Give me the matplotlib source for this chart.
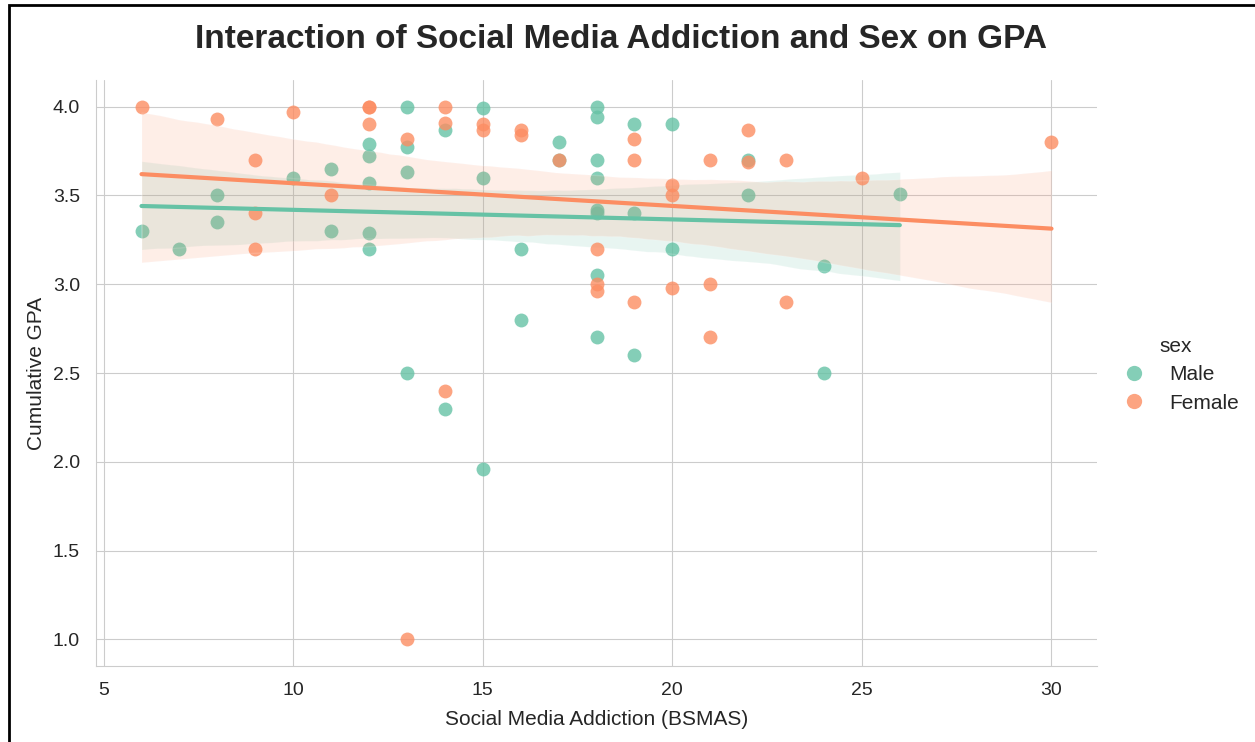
import numpy as np
import pandas as pd
import matplotlib
matplotlib.use("Agg")
import matplotlib.pyplot as plt
from matplotlib.lines import Line2D
from matplotlib.patches import Rectangle
import seaborn as sns

# BSMAS score and cumulative GPA per respondent
male_bsmas = [6, 7, 8, 8, 10, 11, 11, 12, 12, 12, 12, 12, 13, 13, 13, 13,
              14, 14, 15, 15, 15, 16, 16, 17, 17, 18, 18, 18, 18, 18, 18, 18, 18,
              19, 19, 19, 20, 20, 22, 22, 24, 24, 26]
male_gpa = [3.30, 3.20, 3.50, 3.35, 3.60, 3.65, 3.30, 3.79, 3.72, 3.57, 3.29, 3.20,
            4.00, 3.77, 3.63, 2.50, 3.87, 2.30, 3.99, 3.60, 1.96, 3.20, 2.80,
            3.80, 3.70, 4.00, 3.94, 3.70, 3.60, 3.42, 3.40, 3.05, 2.70,
            3.90, 3.40, 2.60, 3.90, 3.20, 3.70, 3.50, 3.10, 2.50, 3.51]

female_bsmas = [6, 8, 9, 9, 9, 10, 11, 12, 12, 12, 13, 13, 14, 14, 14, 15, 15,
                16, 16, 17, 18, 18, 18, 19, 19, 19, 20, 20, 20, 21, 21, 21,
                22, 22, 23, 23, 25, 30]
female_gpa = [4.00, 3.93, 3.70, 3.40, 3.20, 3.97, 3.50, 4.00, 4.00, 3.90, 3.82, 1.00,
              4.00, 3.91, 2.40, 3.90, 3.87, 3.87, 3.84, 3.70, 3.20, 3.00, 2.96,
              3.82, 3.70, 2.90, 3.56, 3.50, 2.98, 3.70, 3.00, 2.70,
              3.87, 3.69, 3.70, 2.90, 3.60, 3.80]

sexes = ["Male", "Female"]

df = pd.DataFrame({
    "BSMAS": male_bsmas + female_bsmas,
    "GPA": male_gpa + female_gpa,
    "sex": ["Male"] * len(male_bsmas) + ["Female"] * len(female_bsmas),
})

sns.set_style("whitegrid")
plt.rcParams["font.family"] = ["Liberation Sans", "DejaVu Sans"]
colors = sns.color_palette("Set2", 2)

fig = plt.figure(figsize=(12.55, 7.42), dpi=100)
ax = fig.add_axes([0.0765, 0.1024, 0.7976, 0.7898])

for sex, col in zip(sexes, colors):
    sub = df[df["sex"] == sex]
    sns.regplot(data=sub, x="BSMAS", y="GPA", ax=ax, color=col, seed=0,
                scatter_kws={"s": 100, "alpha": 0.8, "linewidths": 0},
                line_kws={"lw": 3})

ax.set_xticks([5, 10, 15, 20, 25, 30])
ax.set_yticks([1.0, 1.5, 2.0, 2.5, 3.0, 3.5, 4.0])
ax.tick_params(labelsize=14, colors="#262626", pad=8)
ax.set_xlabel("Social Media Addiction (BSMAS)", fontsize=15, color="#262626",
              labelpad=8)
ax.set_ylabel("Cumulative GPA", fontsize=15, color="#262626", labelpad=5)
sns.despine(ax=ax)
for s in ["left", "bottom"]:
    ax.spines[s].set_color("#cccccc")

fig.suptitle("Interaction of Social Media Addiction and Sex on GPA",
             fontsize=24, fontweight="bold", x=0.495, y=0.968, color="#262626")

handles = [Line2D([], [], ls="", marker="o", ms=11, color=c, alpha=0.8, mec="none")
           for c in colors]
fig.legend(handles, sexes, title="sex", loc="center left",
           bbox_to_anchor=(0.872, 0.495), frameon=False, fontsize=15,
           title_fontsize=15, handletextpad=0.7, labelspacing=0.45)

# frame along the top and left edge
fig.patches.append(Rectangle((9 / 1255, -0.1), 1.2, 1.1 - 5 / 742,
                             transform=fig.transFigure, fill=False,
                             ec="black", lw=2))

fig.savefig("out.png", dpi=100)
